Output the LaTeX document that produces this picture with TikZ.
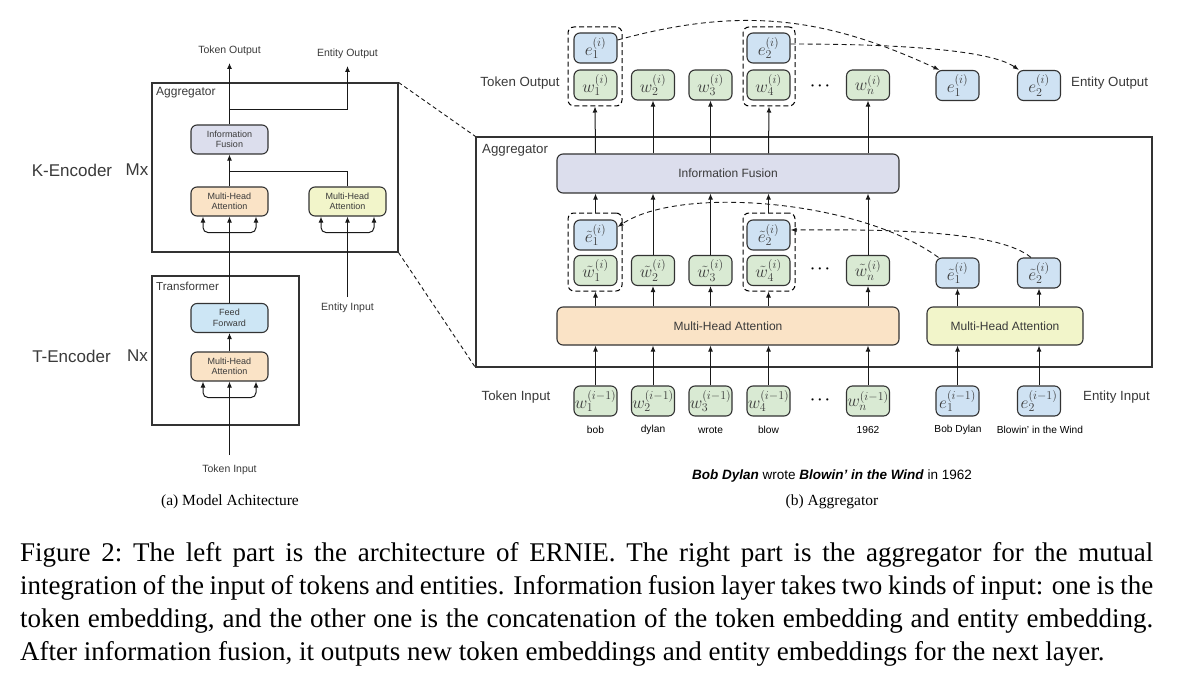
\documentclass[tikz,border=0pt]{standalone}
\usepackage{fontspec}
\setmainfont{Liberation Serif}
\newfontfamily\hv{Liberation Sans}
\usetikzlibrary{arrows.meta}
\definecolor{tokg}{HTML}{D9EAD3}
\definecolor{entb}{HTML}{CFE2F3}
\definecolor{mhao}{HTML}{FAE3C6}
\definecolor{mhay}{HTML}{F2F5CA}
\definecolor{ifl}{HTML}{DCDEED}
\definecolor{ffb}{HTML}{CDE6F5}
\definecolor{edge}{HTML}{333333}
\definecolor{txt}{HTML}{3A3A3A}
\tikzset{
 frame/.style={draw=edge, line width=1.1pt, inner sep=0pt},
 box/.style={draw=edge, line width=1.1pt, rounded corners=6pt, inner sep=0pt, text=txt},
 sbox/.style={box, minimum width=77pt, minimum height=29pt, align=center, font=\hv\fontsize{9}{10.5}\selectfont},
 bigbox/.style={box, minimum height=38pt, font=\hv\fontsize{12}{14}\selectfont},
 mb/.style={box, minimum width=43pt, minimum height=30pt, font=\fontsize{17}{17}\selectfont},
 tk/.style={mb, fill=tokg},
 en/.style={mb, fill=entb},
 grp/.style={draw=black, dash pattern=on 5pt off 3pt, line width=1pt, rounded corners=6pt, inner sep=0pt},
 arr/.style={draw=black!90, line width=1pt, -{Latex[length=6pt,width=5pt]}},
 ln/.style={draw=black!90, line width=1pt},
 dsh/.style={draw=black!90, line width=0.9pt, dash pattern=on 5pt off 3.5pt, -{Latex[length=6pt,width=4.5pt]}},
 dline/.style={draw=black!90, line width=0.9pt, dash pattern=on 4pt off 3pt},
 lbl/.style={font=\hv\fontsize{10.5}{12}\selectfont, inner sep=0pt, text=txt},
 rl/.style={font=\hv\fontsize{13.3}{15}\selectfont, inner sep=0pt, text=txt},
 kl/.style={font=\hv\fontsize{17}{19}\selectfont, inner sep=0pt, text=txt},
 wl/.style={font=\hv\fontsize{10.2}{12}\selectfont, inner sep=0pt, text=black},
 dots/.style={font=\fontsize{14}{14}\selectfont\boldmath, inner sep=0pt},
 sub/.style={font=\fontsize{15.5}{18}\selectfont, inner sep=0pt},
 captxt/.style={font=\fontsize{27}{33}\selectfont, inner sep=0pt, anchor=base west},
}
\begin{document}
\begin{tikzpicture}[x=1pt,y=-1pt]
\useasboundingbox (0,0) rectangle (1180,687);
\fill[white] (0,0) rectangle (1180,687);

% ---------------- left: model architecture ----------------
\node[frame, minimum width=246pt, minimum height=169pt] (LAgg) at (275,167.5) {};
\node[anchor=west, font=\hv\fontsize{12}{14}\selectfont, inner sep=0pt, text=txt] (LAggL) at (156,93) {Aggregator};
\node[frame, minimum width=147pt, minimum height=149pt] (LTr) at (225.5,350.5) {};
\node[anchor=west, font=\hv\fontsize{11.6}{14}\selectfont, inner sep=0pt, text=txt] (LTrL) at (156,286) {Transformer};

\node[sbox, fill=ifl] (LIF) at (229.5,139.5) {Information\\Fusion};
\node[sbox, fill=mhao] (LMA) at (229.5,201.5) {Multi-Head\\Attention};
\node[sbox, fill=mhay] (RMA) at (347.5,201.5) {Multi-Head\\Attention};
\node[sbox, fill=ffb] (LFF) at (229.5,318) {Feed\\Forward};
\node[sbox, fill=mhao] (LTM) at (229.5,366.5) {Multi-Head\\Attention};

\node[lbl] (LTO) at (229.5,51) {Token Output};
\node[lbl] (LEO) at (347.5,54) {Entity Output};
\node[lbl] (LEI) at (347.5,308) {Entity Input};
\node[lbl] (LTI) at (229.5,470) {Token Input};
\node[kl] (KE) at (72,170) {K-Encoder};
\node[kl] (KM) at (137,170) {Mx};
\node[kl] (TE) at (71.5,356) {T-Encoder};
\node[kl] (TN) at (137.5,356) {Nx};

\coordinate (LTOt) at (229.5,63);
\coordinate (LEOt) at (347.5,66);
\coordinate (LJ1) at (229.5,110);
\coordinate (LJ2) at (229.5,172);
\coordinate (LEIb) at (347.5,297);
\coordinate (LTIb) at (229.5,455);

\draw[arr] (LIF.north) -- (LTOt);
\draw[arr] (LJ1) -| (LEOt);
\draw[arr] (LMA.north) -- (LIF.south);
\draw[ln] (LJ2) -| (RMA.north);
\draw[arr] (LFF.north) -- (LMA.south);
\draw[arr] (LTM.north) -- (LFF.south);
\draw[arr] (LTIb) -- (LTM.south);
\draw[arr] (LEIb) -- (RMA.south);
\foreach \n in {LMA,RMA,LTM}{
  \draw[arr, rounded corners=5pt] ([yshift=-16pt]\n.south) -| ([xshift=-26.5pt]\n.south);
  \draw[arr, rounded corners=5pt] ([yshift=-16pt]\n.south) -| ([xshift=26.5pt]\n.south);
}

\node[sub] (capa) at (230,502) {(a) Model Achitecture};

% ---------------- right: aggregator ----------------
\node[frame, minimum width=676pt, minimum height=230pt] (RAgg) at (814,252) {};
\node[rl, anchor=west] (RAggL) at (482,150) {Aggregator};
\draw[dline] (LAgg.north east) -- (RAgg.north west);
\draw[dline] (LAgg.south east) -- (RAgg.south west);

\node[bigbox, fill=ifl, minimum width=342pt, minimum height=39pt] (IF) at (728,173.5) {Information Fusion};
\node[bigbox, fill=mhao, minimum width=342pt] (MHA) at (728,326) {Multi-Head Attention};
\node[bigbox, fill=mhay, minimum width=156pt] (EMHA) at (1005,326) {Multi-Head Attention};

% output row
\node[en] (eo1) at (595.5,48) {$e_1^{(i)}$};
\node[en] (eo2) at (768.5,48) {$e_2^{(i)}$};
\node[tk] (wo1) at (595.5,85) {$w_1^{(i)}$};
\node[tk] (wo2) at (653,85) {$w_2^{(i)}$};
\node[tk] (wo3) at (710.5,85) {$w_3^{(i)}$};
\node[tk] (wo4) at (768.5,85) {$w_4^{(i)}$};
\node[tk] (won) at (868,85) {$w_n^{(i)}$};
\node[en] (eE1) at (957.5,85.5) {$e_1^{(i)}$};
\node[en] (eE2) at (1039,85.5) {$e_2^{(i)}$};
\node[grp, minimum width=54pt, minimum height=79pt] (G1) at (595,66.5) {};
\node[grp, minimum width=52pt, minimum height=79pt] (G2) at (769,66.5) {};
\node[dots] (d1) at (820,86) {$\cdots$};
\node[rl] (RTO) at (520,83) {Token Output};
\node[rl, anchor=west] (REO) at (1071,83) {Entity Output};

% middle row
\node[en] (em1) at (595.5,235) {$\tilde{e}_1^{(i)}$};
\node[en] (em2) at (768.5,235) {$\tilde{e}_2^{(i)}$};
\node[tk] (wm1) at (595.5,270.5) {$\tilde{w}_1^{(i)}$};
\node[tk] (wm2) at (653,270.5) {$\tilde{w}_2^{(i)}$};
\node[tk] (wm3) at (710.5,270.5) {$\tilde{w}_3^{(i)}$};
\node[tk] (wm4) at (768.5,270.5) {$\tilde{w}_4^{(i)}$};
\node[tk] (wmn) at (868,270.5) {$\tilde{w}_n^{(i)}$};
\node[en] (eM1) at (957.5,273) {$\tilde{e}_1^{(i)}$};
\node[en] (eM2) at (1039,273) {$\tilde{e}_2^{(i)}$};
\node[grp, minimum width=54pt, minimum height=78pt] (G3) at (595,252) {};
\node[grp, minimum width=52pt, minimum height=78pt] (G4) at (769,252) {};
\node[dots] (d2) at (820,269) {$\cdots$};

% input row
\node[tk] (wi1) at (595.5,401) {$w_1^{(i-1)}$};
\node[tk] (wi2) at (653,401) {$w_2^{(i-1)}$};
\node[tk] (wi3) at (710.5,401) {$w_3^{(i-1)}$};
\node[tk] (wi4) at (768.5,401) {$w_4^{(i-1)}$};
\node[tk] (win) at (868,401) {$w_n^{(i-1)}$};
\node[en] (ei1) at (957.5,401) {$e_1^{(i-1)}$};
\node[en] (ei2) at (1039,401) {$e_2^{(i-1)}$};
\node[dots] (d3) at (820,400) {$\cdots$};
\node[rl] (RTI) at (516,397) {Token Input};
\node[rl, anchor=west] (REI) at (1083,397) {Entity Input};

\node[wl] (t1) at (595.5,430) {bob};
\node[wl] (t2) at (653,430) {dylan};
\node[wl] (t3) at (710.5,430) {wrote};
\node[wl] (t4) at (768.5,430) {blow};
\node[wl] (t5) at (868,430) {1962};
\node[wl] (t6) at (958,430) {Bob Dylan};
\node[wl] (t7) at (1040,430) {Blowin’ in the Wind};

\node[font=\hv\fontsize{13.5}{16}\selectfont, inner sep=0pt, text=black] (sent) at (832,476)
  {\textbf{\textit{Bob Dylan}} wrote \textbf{\textit{Blowin’ in the Wind}} in 1962};
\node[sub] (capb) at (832,502) {(b) Aggregator};

% arrows: outputs
\draw[arr] (IF.north -| wo1) -- (G1.south);
\draw[arr] (IF.north -| wo2) -- (wo2.south);
\draw[arr] (IF.north -| wo3) -- (wo3.south);
\draw[arr] (IF.north -| wo4) -- (G2.south);
\draw[arr] (IF.north -| won) -- (won.south);
% arrows: into fusion
\draw[arr] (G3.north -| wm1) -- (IF.south -| wm1);
\draw[arr] (wm2.north) -- (IF.south -| wm2);
\draw[arr] (wm3.north) -- (IF.south -| wm3);
\draw[arr] (G4.north -| wm4) -- (IF.south -| wm4);
\draw[arr] (wmn.north) -- (IF.south -| wmn);
% arrows: from attention
\draw[arr] (MHA.north -| wm1) -- (G3.south -| wm1);
\draw[arr] (MHA.north -| wm2) -- (wm2.south);
\draw[arr] (MHA.north -| wm3) -- (wm3.south);
\draw[arr] (MHA.north -| wm4) -- (G4.south -| wm4);
\draw[arr] (MHA.north -| wmn) -- (wmn.south);
\draw[arr] (EMHA.north -| eM1) -- (eM1.south);
\draw[arr] (EMHA.north -| eM2) -- (eM2.south);
% arrows: inputs
\foreach \n in {wi1,wi2,wi3,wi4,win}{\draw[arr] (\n.north) -- (MHA.south -| \n);}
\foreach \n in {ei1,ei2}{\draw[arr] (\n.north) -- (EMHA.south -| \n);}

% dashed curves
\draw[dsh] ([yshift=8pt]eo1.east) .. controls (742,6) and (825,17) .. ([xshift=4pt]eE1.north west);
\draw[dsh] ([yshift=4pt]eo2.east) .. controls (900,44) and (990,50) .. ([xshift=2pt]eE2.north west);
\draw[dsh] ([xshift=3pt]eM1.north west) .. controls (860,200) and (680,185) .. ([yshift=8pt]em1.east);
\draw[dsh] ([xshift=-8pt]eM2.north) .. controls (1000,232) and (900,229) .. ([yshift=5pt]em2.east);

% ---------------- caption ----------------
\node[captxt] (c1) at (20,561) {\hbox to 1133pt{Figure 2:\ The left part is the architecture of ERNIE. The right part is the aggregator for the mutual}};
\node[captxt] (c2) at (20,594) {\hbox to 1133pt{integration of the input of tokens and entities. Information fusion layer takes two kinds of input: one is the}};
\node[captxt] (c3) at (20,627) {\hbox to 1133pt{token embedding, and the other one is the concatenation of the token embedding and entity embedding.}};
\node[captxt] (c4) at (20,660) {After information fusion, it outputs new token embeddings and entity embeddings for the next layer.};
\end{tikzpicture}
\end{document}
